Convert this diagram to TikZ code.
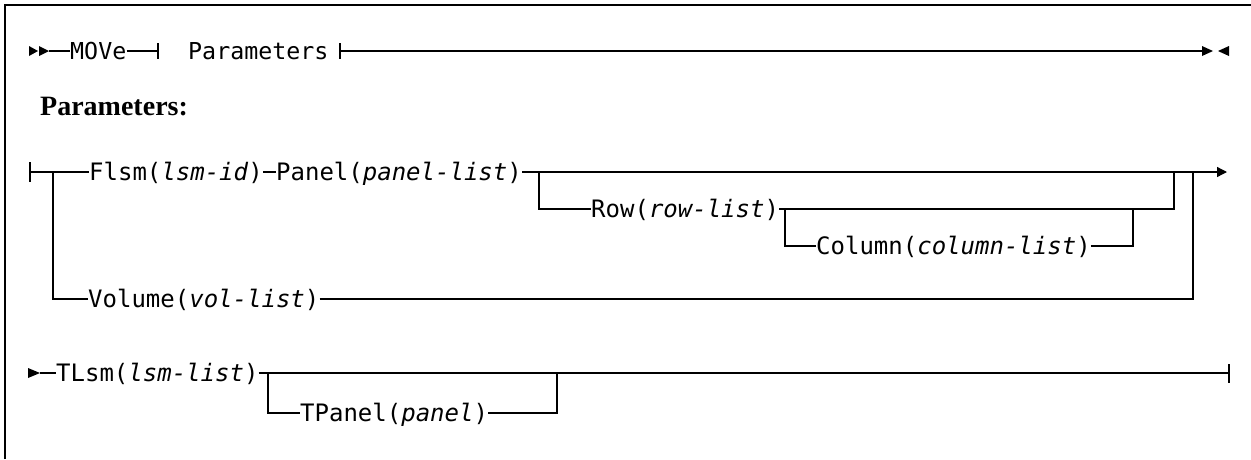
\documentclass[tikz,border=0pt]{standalone}
\usepackage{fontspec}
\setmainfont{Liberation Serif}
\setmonofont{DejaVu Sans Mono}
\usetikzlibrary{arrows.meta}
\tikzset{
  rr/.style={line width=1.3pt},
  tickline/.style={line width=1.6pt},
  frameline/.style={line width=2pt},
  tri/.style={fill=black},
  endarrow/.style={-{Triangle[length=10pt,width=10pt]}},
  lbl/.style={inner sep=0pt, anchor=west, text height=17.4pt, text depth=0pt,
    font=\ttfamily\fontsize{24}{28}\selectfont},
  lblone/.style={lbl, font=\ttfamily\fontsize{23.3}{28}\selectfont},
  heading/.style={inner sep=0pt, anchor=base west, font=\bfseries\fontsize{28}{32}\selectfont},
}
\begin{document}
\begin{tikzpicture}[x=1pt,y=-1pt]
\useasboundingbox (0,0) rectangle (1251,459);
% frame
\draw[frameline] (5,459) -- (5,5) -- (1251,5);

% ---------- line 1 ----------
\fill[tri] (29,46) -- (38,51) -- (29,56) -- cycle;
\fill[tri] (39,46) -- (49,51) -- (39,56) -- cycle;
\coordinate (s1) at (49,51);
\node[lblone] (move) at (70,51) {MOVe};
\coordinate (t1) at (158,51);
\node[lblone] (params) at (188,51) {Parameters};
\coordinate (t2) at (340,51);
\coordinate (e1) at (1203,51);
\draw[rr] (s1) -- (move.west);
\draw[rr] (move.east) -- (t1);
\draw[tickline] (158,43) -- (158,59);
\draw[tickline] (340,43) -- (340,59);
\draw[rr] (t2) -- (e1);
\fill[tri] (1202,46) -- (1213,51) -- (1202,56) -- cycle;
\fill[tri] (1229,46) -- (1218,51) -- (1229,56) -- cycle;

% heading
\node[heading] (hd) at (40,115) {Parameters:};

% ---------- line 2 ----------
\coordinate (s2) at (30,172);
\draw[tickline] (30,162) -- (30,182);
\node[lbl] (flsm) at (89,172) {Flsm(\textit{lsm-id})};
\node[lbl] (panel) at (276,172) {Panel(\textit{panel-list})};
\node[lbl] (row) at (591,209) {Row(\textit{row-list})};
\node[lbl] (column) at (816,246) {Column(\textit{column-list})};
\node[lbl] (volume) at (88,299) {Volume(\textit{vol-list})};
\coordinate (e2) at (1227,172);

\draw[rr] (s2) -- (flsm.west);
\draw[rr] (flsm.east) -- (panel.west);
\draw[rr,endarrow] (panel.east) -- (e2);
% Volume alternative
\draw[rr] (53,172) -- (53,299) -- (volume.west);
\draw[rr] (volume.east) -- (1193,299) -- (1193,172);
% Row optional
\draw[rr] (539,172) -- (539,209) -- (row.west);
\draw[rr] (row.east) -- (1174,209) -- (1174,172);
% Column optional
\draw[rr] (785,209) -- (785,246) -- (column.west);
\draw[rr] (column.east) -- (1133,246) -- (1133,209);

% ---------- line 3 ----------
\fill[tri] (28,368) -- (40,373) -- (28,378) -- cycle;
\coordinate (s3) at (40,373);
\node[lbl] (tlsm) at (56,373) {TLsm(\textit{lsm-list})};
\node[lbl] (tpanel) at (300,413) {TPanel(\textit{panel})};
\coordinate (e3) at (1229,373);
\draw[rr] (s3) -- (tlsm.west);
\draw[rr] (tlsm.east) -- (e3);
\draw[tickline] (1229,364) -- (1229,383);
\draw[rr] (268,373) -- (268,413) -- (tpanel.west);
\draw[rr] (tpanel.east) -- (557,413) -- (557,373);
\end{tikzpicture}
\end{document}
